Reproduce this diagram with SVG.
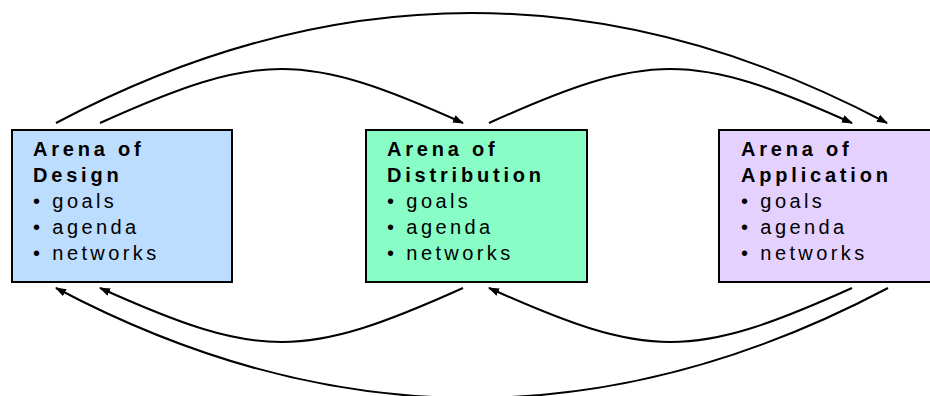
<svg xmlns="http://www.w3.org/2000/svg" width="930" height="396" viewBox="0 0 930 396">
<defs>
<style>
.box{stroke:#000;stroke-width:2}
.t{font-family:"Liberation Sans",Arial,sans-serif;font-size:20px;letter-spacing:3.4px;fill:#000}
.b{font-weight:bold;letter-spacing:3.8px}
.c{fill:none;stroke:#000;stroke-width:2}
</style>
<marker id="ah" viewBox="0 0 11 10" refX="10" refY="5" markerWidth="11" markerHeight="10" markerUnits="userSpaceOnUse" orient="auto">
<path d="M0,1 L11,5 L0,9 Z" fill="#000"/>
</marker>
</defs>
<rect width="930" height="396" fill="#fff"/>
<g id="connectors">
<path class="c" marker-end="url(#ah)" d="M56,123 Q472,-97 887,123"/>
<path class="c" marker-end="url(#ah)" d="M100,123 C260,51 303,51 463,123"/>
<path class="c" marker-end="url(#ah)" d="M489,123 C649,51 692,51 852,123"/>
<path class="c" marker-end="url(#ah)" d="M888,288 Q472,508 56,288"/>
<path class="c" marker-end="url(#ah)" d="M463,288 C303,360 260,360 100,288"/>
<path class="c" marker-end="url(#ah)" d="M852,288 C692,360 649,360 489,288"/>
</g>
<g id="design">
<rect class="box" x="12" y="130" width="220" height="152" fill="#BCDDFE"/>
<text class="t b" x="33" y="156">Arena of</text>
<text class="t b" x="33" y="182">Design</text>
<text class="t" x="33" y="208">• goals</text>
<text class="t" x="33" y="234">• agenda</text>
<text class="t" x="33" y="260">• networks</text>
</g>
<g id="distribution">
<rect class="box" x="366" y="130" width="221" height="152" fill="#88FEC6"/>
<text class="t b" x="387" y="156">Arena of</text>
<text class="t b" x="387" y="182">Distribution</text>
<text class="t" x="387" y="208">• goals</text>
<text class="t" x="387" y="234">• agenda</text>
<text class="t" x="387" y="260">• networks</text>
</g>
<g id="application">
<rect class="box" x="719" y="130" width="225" height="152" fill="#E5D1FE"/>
<text class="t b" x="741" y="156">Arena of</text>
<text class="t b" x="741" y="182">Application</text>
<text class="t" x="741" y="208">• goals</text>
<text class="t" x="741" y="234">• agenda</text>
<text class="t" x="741" y="260">• networks</text>
</g>
</svg>
